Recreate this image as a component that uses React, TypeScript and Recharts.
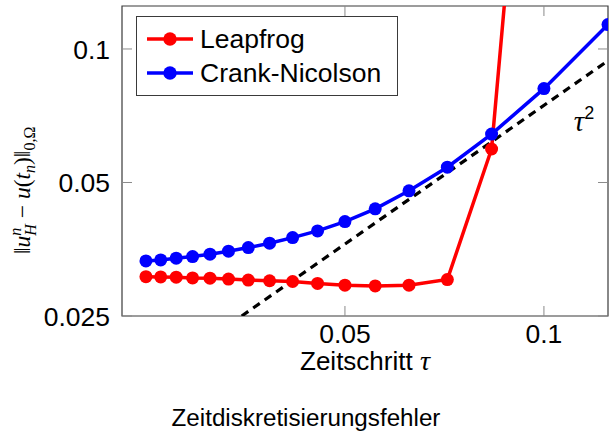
import {
  Label,
  Line,
  LineChart,
  ReferenceArea,
  ReferenceDot,
  XAxis,
  YAxis,
} from "recharts";

// step sizes tau = 1/n, n = 40, 38, ..., 8
const TAU = [
  0.025, 0.02632, 0.02778, 0.02941, 0.03125, 0.03333, 0.03571, 0.03846,
  0.04167, 0.04545, 0.05, 0.05556, 0.0625, 0.07143, 0.08333, 0.1, 0.125,
];

// Leapfrog blows up after n = 12 (the value at n = 10 leaves the plot)
const LEAPFROG = [
  0.03067, 0.03062, 0.03058, 0.03047, 0.03042, 0.03028, 0.03013, 0.03002,
  0.0299, 0.0296, 0.02934, 0.02922, 0.02934, 0.03021, 0.0595, 1.28,
];

const CRANK_NICOLSON = [
  0.03327, 0.03345, 0.03375, 0.03403, 0.03446, 0.035, 0.03566, 0.03648,
  0.03756, 0.03889, 0.04082, 0.04361, 0.04789, 0.05413, 0.06428, 0.0814,
  0.1135,
];

// reference slope line
const REF_TAU = [0.0349, 0.125];
const REF_ERR = [0.025, 0.0941];

const X_TICKS = [0.05, 0.1];
const Y_TICKS = [0.025, 0.05, 0.1];
const X_DOMAIN = [0.023, 0.125];
const Y_DOMAIN = [0.025, 0.125];

const SERIES = [
  { name: "Leapfrog", color: "#ff0000", values: LEAPFROG },
  { name: "Crank-Nicolson", color: "#0000ff", values: CRANK_NICOLSON },
];

const W = 612;
const H = 434;
const PLOT_TOP = 6;
const PLOT_BOTTOM = 316;
const PLOT_LEFT = 122;
const PLOT_RIGHT = 608;
const SANS = "'Liberation Sans', Arial, Helvetica, sans-serif";
const SERIF = "'Liberation Serif', 'Times New Roman', serif";
const TICK_COLOR = "#8a8a8a";
const FRAME_COLOR = "#3a3a3a";

const XTick = (props: any) => {
  const { x, payload } = props;
  return (
    <g>
      <line x1={x} x2={x} y1={PLOT_BOTTOM} y2={PLOT_BOTTOM - 10} stroke={TICK_COLOR} />
      <line x1={x} x2={x} y1={PLOT_TOP} y2={PLOT_TOP + 10} stroke={TICK_COLOR} />
      <text x={x} y={343} textAnchor="middle" fontSize={26.5} fontFamily={SANS} fill="#000">
        {String(payload.value)}
      </text>
    </g>
  );
};

const YTick = (props: any) => {
  const { y, payload } = props;
  return (
    <g>
      <line x1={PLOT_LEFT} x2={PLOT_LEFT + 10} y1={y} y2={y} stroke={TICK_COLOR} />
      <line x1={PLOT_RIGHT} x2={PLOT_RIGHT - 10} y1={y} y2={y} stroke={TICK_COLOR} />
      <text x={110} y={y} dy="0.36em" textAnchor="end" fontSize={26.5} fontFamily={SANS} fill="#000">
        {String(payload.value)}
      </text>
    </g>
  );
};

const XLabel = (props: any) => {
  const { viewBox } = props;
  const cx = viewBox.x + viewBox.width / 2;
  return (
    <text x={cx} y={370} textAnchor="middle" fontSize={26} fontFamily={SANS} fill="#000">
      Zeitschritt{" "}
      <tspan fontFamily={SERIF} fontStyle="italic" fontSize={28}>
        τ
      </tspan>
    </text>
  );
};

// rotated label: the norm of the discrete error, laid out from its lower end upwards
const YLabel = () => {
  const cx = 30;
  const yStart = 254;
  return (
    <text
      x={cx}
      y={yStart}
      transform={`rotate(-90 ${cx} ${yStart})`}
      textAnchor="start"
      fontSize={23.5}
      fontFamily={SERIF}
      fill="#000"
    >
      ‖<tspan fontStyle="italic">u</tspan>
      <tspan fontStyle="italic" fontSize={16} dy={-9}>n</tspan>
      <tspan fontStyle="italic" fontSize={16} dx={-8} dy={15}>H</tspan>
      <tspan dy={-6}> − </tspan>
      <tspan fontStyle="italic">u</tspan>(<tspan fontStyle="italic">t</tspan>
      <tspan fontStyle="italic" fontSize={16} dy={5}>n</tspan>
      <tspan dy={-5}>)‖</tspan>
      <tspan fontSize={16} dy={5}>0,Ω</tspan>
    </text>
  );
};

const TauLabel = (props: any) => {
  const { viewBox } = props;
  return (
    <text x={viewBox.x} y={viewBox.y} textAnchor="middle" fill="#000">
      <tspan fontFamily={SERIF} fontStyle="italic" fontSize={29}>τ</tspan>
      <tspan fontFamily={SANS} fontSize={18} dy={-12}>2</tspan>
    </text>
  );
};

function LegendBox() {
  return (
    <div
      style={{
        position: "absolute",
        left: 136,
        top: 16,
        width: 262,
        height: 80,
        boxSizing: "border-box",
        border: `1.2px solid ${FRAME_COLOR}`,
        background: "#fff",
        fontFamily: SANS,
        fontSize: 26.5,
      }}
    >
      {SERIES.map((s, i) => (
        <div
          key={s.name}
          style={{
            position: "absolute",
            left: 0,
            top: 5 + i * 34,
            height: 34,
            display: "flex",
            alignItems: "center",
          }}
        >
          <svg width={63} height={34} style={{ display: "block" }}>
            <line x1={10} x2={56} y1={17} y2={17} stroke={s.color} strokeWidth={3.5} />
            <circle cx={33} cy={17} r={6.7} fill={s.color} />
          </svg>
          <span style={{ lineHeight: "34px", whiteSpace: "nowrap" }}>{s.name}</span>
        </div>
      ))}
    </div>
  );
}

export default function App() {
  const seriesData = SERIES.map((s) => ({
    ...s,
    data: s.values.map((err, i) => ({ tau: TAU[i], err })),
  }));
  const refData = REF_TAU.map((tau, i) => ({ tau, err: REF_ERR[i] }));

  return (
    <div
      style={{
        position: "absolute",
        left: 0,
        top: 0,
        width: W,
        height: H,
        background: "#fff",
        overflow: "hidden",
      }}
    >
      <LineChart
        width={W}
        height={H}
        margin={{ top: PLOT_TOP, right: W - PLOT_RIGHT, left: 0, bottom: H - PLOT_BOTTOM - 60 }}
      >
        <XAxis
          dataKey="tau"
          type="number"
          scale="log"
          domain={X_DOMAIN}
          ticks={X_TICKS}
          allowDataOverflow
          height={60}
          axisLine={false}
          tickLine={false}
          tick={<XTick />}
        >
          <Label content={<XLabel />} />
        </XAxis>
        <YAxis
          dataKey="err"
          type="number"
          scale="log"
          domain={Y_DOMAIN}
          ticks={Y_TICKS}
          allowDataOverflow
          width={PLOT_LEFT}
          axisLine={false}
          tickLine={false}
          tick={<YTick />}
        >
          <Label content={<YLabel />} />
        </YAxis>
        <ReferenceArea
          x1={X_DOMAIN[0]}
          x2={X_DOMAIN[1]}
          y1={Y_DOMAIN[0]}
          y2={Y_DOMAIN[1]}
          fill="none"
          stroke={FRAME_COLOR}
          strokeWidth={1.2}
        />
        {seriesData.map((s) => (
          <Line
            key={s.name}
            data={s.data}
            dataKey="err"
            name={s.name}
            stroke={s.color}
            strokeWidth={3.5}
            dot={{ r: 6.5, fill: s.color, stroke: "none" }}
            isAnimationActive={false}
          />
        ))}
        <Line
          data={refData}
          dataKey="err"
          name="tau2"
          stroke="#000"
          strokeWidth={3.2}
          strokeDasharray="8 6"
          dot={false}
          isAnimationActive={false}
        />
        <ReferenceDot x={0.115} y={0.0652} r={0} fill="none" stroke="none" label={<TauLabel />} />
      </LineChart>
      <LegendBox />
      <div
        style={{
          position: "absolute",
          left: 0,
          top: 403,
          width: W,
          textAlign: "center",
          fontFamily: SANS,
          fontSize: 24.2,
          lineHeight: "30px",
        }}
      >
        Zeitdiskretisierungsfehler
      </div>
    </div>
  );
}
